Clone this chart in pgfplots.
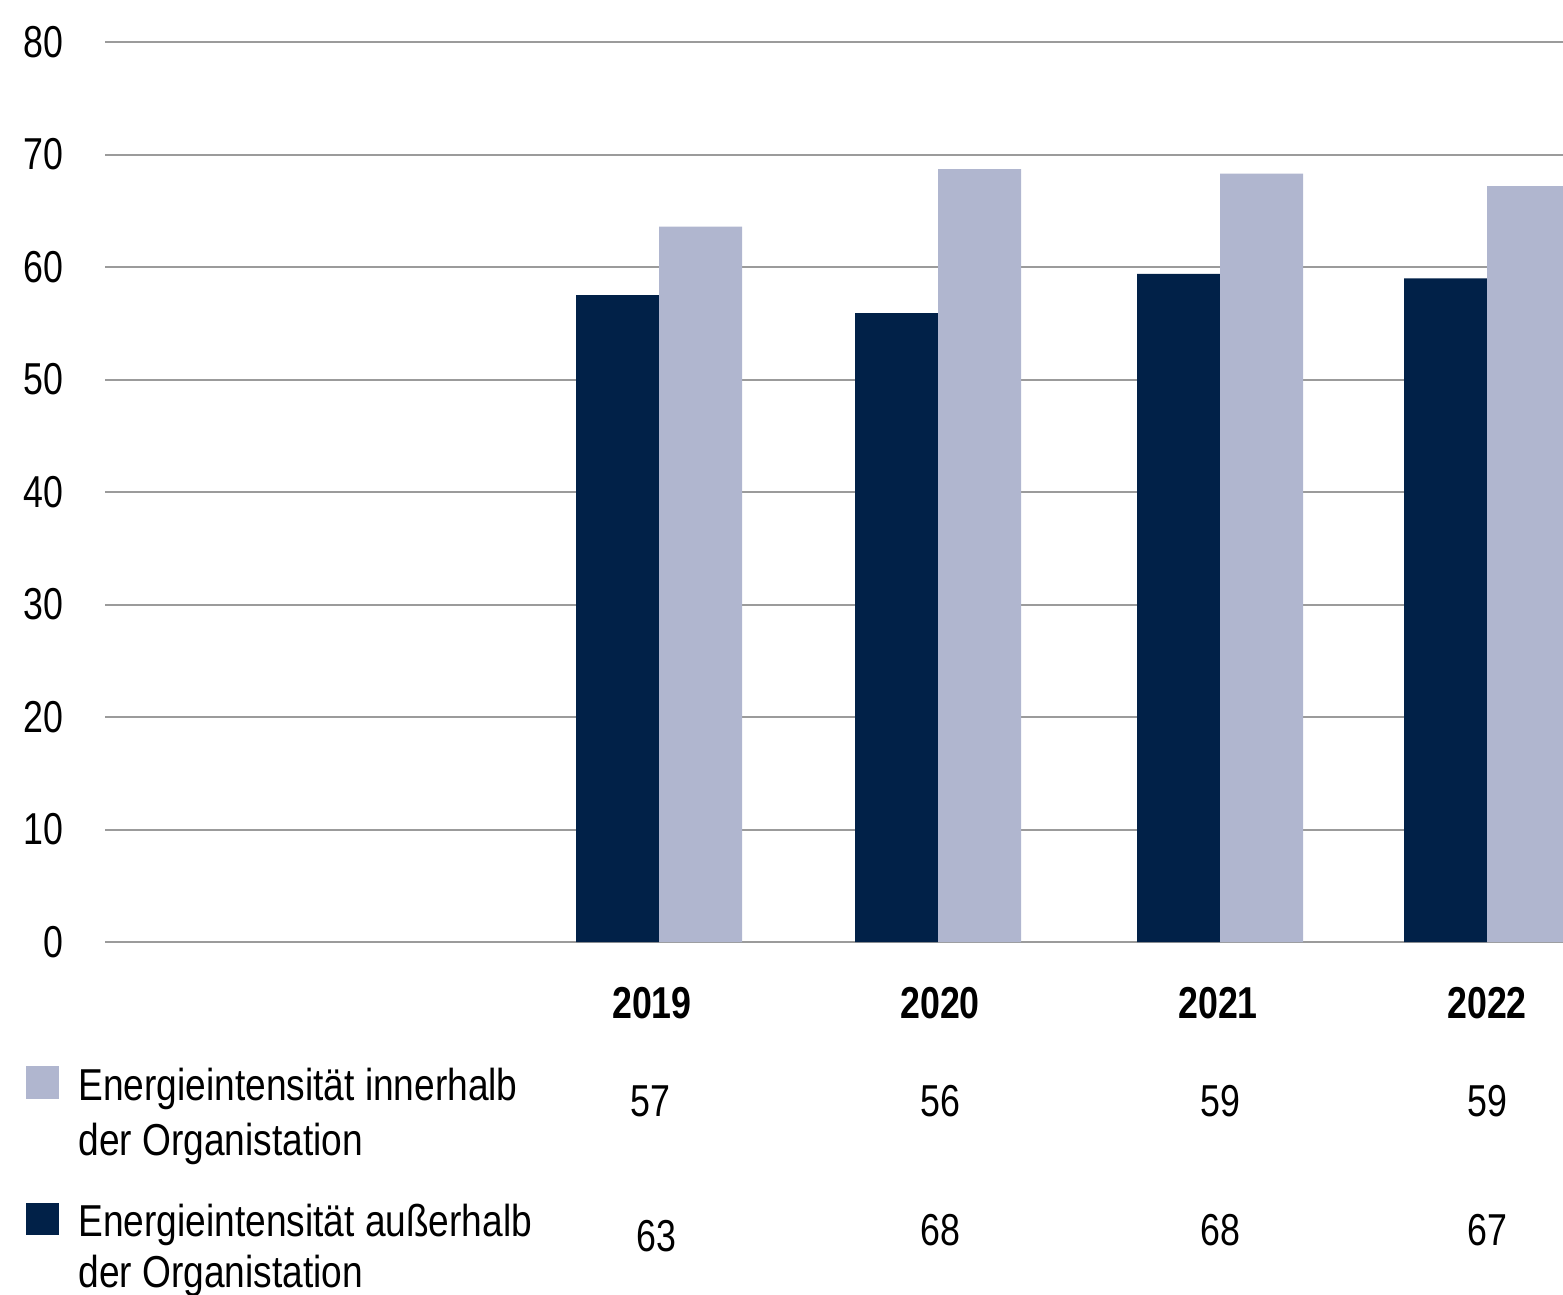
\documentclass[border=0pt]{standalone}
\usepackage{fontspec}
\setmainfont{Liberation Sans}[FakeStretch=0.8]
\newfontfamily\legfont{Liberation Sans}[FakeStretch=0.83]
\usepackage{pgfplots}
\pgfplotsset{compat=1.18}
\definecolor{navy}{RGB}{1,33,72}
\definecolor{lav}{RGB}{176,182,207}
\definecolor{gridgray}{RGB}{155,155,155}
\begin{document}
\fontsize{22.35}{27.5}\selectfont
\begin{tikzpicture}
\path[use as bounding box] (0pt,0pt) rectangle (781.5pt,-647.5pt);
\begin{axis}[
  anchor=south west, at={(52.5pt,-471pt)},
  scale only axis, width=729pt, height=450pt,
  xmin=105, xmax=1563, ymin=0, ymax=80,
  xtick=\empty,
  ytick={0,10,...,80},
  ymajorgrids,
  major grid style={gridgray, line width=1pt},
  axis line style={draw=none},
  major tick length=0pt,
  tick style={draw=none},
  /pgf/number format/assume math mode=true,
  yticklabel style={anchor=east, inner sep=0pt, xshift=-20.5pt, font=\fontsize{22.35}{27.5}\selectfont},
]
\addplot[ybar, bar width=83, bar shift=0pt, fill=navy, draw=none]
  coordinates {(617.5,57.5) (896.5,55.9) (1178.5,59.4) (1445.5,59.0)};
\addplot[ybar, bar width=83, bar shift=0pt, fill=lav, draw=none]
  coordinates {(700.5,63.6) (979.5,68.7) (1261.5,68.3) (1528.5,67.2)};
\end{axis}
% year labels
\foreach \x/\t in {326/2019, 470/2020, 609/2021, 743.5/2022}
  \node[inner sep=0pt, font=\bfseries] at (\x pt,-501.5pt) {\t};
% table row 1
\fill[lav] (13pt,-533pt) rectangle (29.5pt,-549.5pt);
\node[anchor=base west, inner sep=0pt, font=\legfont] at (39pt,-550pt) {Energieintensität innerhalb};
\node[anchor=base west, inner sep=0pt, font=\legfont] at (39pt,-577.5pt) {der Organistation};
\foreach \x/\t in {325/57, 470/56, 610/59, 743.5/59}
  \node[inner sep=0pt] at (\x pt,-550.5pt) {\t};
% table row 2
\fill[navy] (13pt,-601.5pt) rectangle (29.5pt,-617.5pt);
\node[anchor=base west, inner sep=0pt, font=\legfont] at (39pt,-618pt) {Energieintensität außerhalb};
\node[anchor=base west, inner sep=0pt, font=\legfont] at (39pt,-643.5pt) {der Organistation};
\node[inner sep=0pt] at (328pt,-618pt) {63};
\foreach \x/\t in {470/68, 610/68, 743.5/67}
  \node[inner sep=0pt] at (\x pt,-615pt) {\t};
\end{tikzpicture}
\end{document}
